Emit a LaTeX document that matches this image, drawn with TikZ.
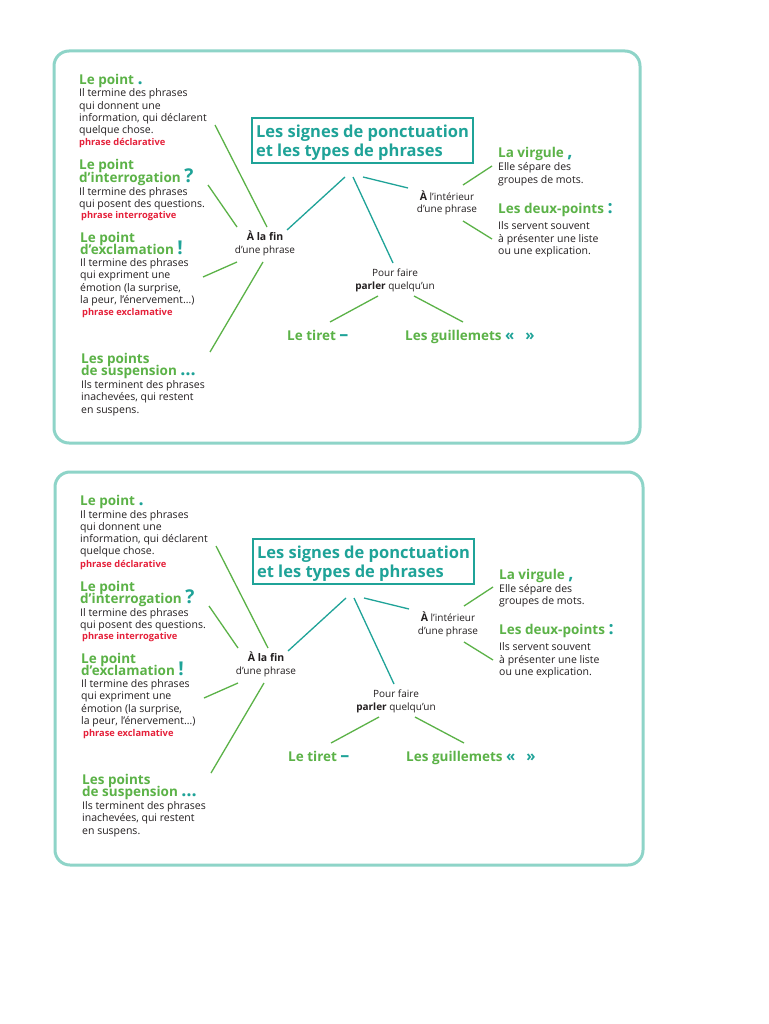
\documentclass[tikz,border=0pt]{standalone}
\usepackage{fontspec}
\setmainfont{Open Sans}
\usetikzlibrary{calc}
\definecolor{tealc}{HTML}{1FA398}
\definecolor{greenc}{HTML}{5BB247}
\definecolor{framec}{HTML}{8ED4C8}
\definecolor{redc}{HTML}{E5203A}
\definecolor{inkc}{HTML}{231F20}
\newcommand\pmark[2][18]{\smash{\textcolor{tealc}{\fontsize{#1}{#1}\selectfont\bfseries #2}}}
\newcommand\tightlines{\lineskiplimit=-20pt\lineskip=0pt}
\tikzset{
  bodytext/.style={anchor=base west, inner sep=0pt, align=left, text=inkc, font=\fontsize{10.5}{12.3}\selectfont\tightlines},
  headtext/.style={anchor=base west, inner sep=0pt, align=left, text=greenc, font=\fontsize{13.5}{12.5}\selectfont\bfseries\tightlines},
  redtext/.style={anchor=base west, inner sep=0pt, text=redc, font=\fontsize{9.3}{10}\selectfont\bfseries},
  midtext/.style={anchor=base, inner sep=0pt, align=center, text=inkc, font=\fontsize{10}{12.5}\selectfont\tightlines},
  titlebox/.style={draw=tealc, line width=2pt, text=tealc, align=left, inner sep=0pt,
    minimum width=221pt, minimum height=45pt, font=\fontsize{16.5}{18.5}\selectfont\bfseries\tightlines},
  tline/.style={tealc, line width=1.3pt},
  gline/.style={greenc, line width=1.3pt},
  framebox/.style={framec, line width=3pt, rounded corners=15pt},
}
\newcommand\drawpanel[5]{%
\begin{scope}[shift={(#1,#2)}, name prefix=#3-]
  \draw[framebox] (54,51) rectangle (#4,#5);
  % title
  \draw[draw=tealc, line width=2pt] (252,118) rectangle (473,163);
  \node[titlebox, draw=none] (title) at (362.5,142.5) {Les signes de ponctuation\\et les types de phrases};
  % left column
  \node[headtext] (hpoint) at (79,84.5) {Le point \pmark{.}};
  \node[bodytext] (bpoint) at (79,133.9) {Il termine des phrases\\qui donnent une\\information, qui déclarent\\quelque chose.};
  \node[redtext] (rpoint) at (79,146) {phrase déclarative};
  \node[headtext] (hinter) at (79,182.5) {Le point\\d’interrogation \pmark[19]{?}};
  \node[bodytext] (binter) at (79,207.8) {Il termine des phrases\\qui posent des questions.};
  \node[redtext] (rinter) at (81,218.5) {phrase interrogative};
  \node[headtext] (hexcl) at (80,254.5) {Le point\\d’exclamation \pmark[19]{!}};
  \node[bodytext] (bexcl) at (80,303.4) {Il termine des phrases\\qui expriment une\\émotion (la surprise,\\la peur, l’énervement…)};
  \node[redtext] (rexcl) at (82,315.5) {phrase exclamative};
  \node[headtext] (hsusp) at (81,375.5) {Les points\\de suspension \pmark{…}};
  \node[bodytext] (bsusp) at (81,413) {Ils terminent des phrases\\inachevées, qui restent\\en suspens.};
  % middle
  \node[midtext] (fin) at (265,253) {{\fontsize{10.5}{12.5}\selectfont\bfseries À la fin}\\d’une phrase};
  \node[midtext] (inter) at (447,213) {{\fontsize{10.5}{12.5}\selectfont\bfseries À} l’intérieur\\d’une phrase};
  \node[midtext] (pour) at (395,289) {Pour faire\\{\bfseries parler} quelqu’un};
  % right column
  \node[headtext] (hvirg) at (498,158) {La virgule \pmark{,}};
  \node[bodytext] (bvirg) at (498,183.3) {Elle sépare des\\groupes de mots.};
  \node[headtext] (hdeux) at (498,213.5) {Les deux-points \pmark{:}};
  \node[bodytext] (bdeux) at (498,254.5) {Ils servent souvent\\à présenter une liste\\ou une explication.};
  % bottom
  \node[headtext] (tiret) at (287,340) {Le tiret \pmark{–}};
  \node[headtext] (guill) at (405,340) {Les guillemets \pmark[15]{«}\hspace{11pt}\pmark[15]{»}};
  % connector ends
  \coordinate (ta) at (345,177); \coordinate (fa) at (287,230);
  \coordinate (tb) at (353,177); \coordinate (pa) at (393,263);
  \coordinate (tc) at (363,177); \coordinate (ia) at (408,188);
  \coordinate (f1) at (267,227); \coordinate (e1) at (215,125);
  \coordinate (f2) at (237,227); \coordinate (e2) at (208,185);
  \coordinate (f3) at (237,262); \coordinate (e3) at (203,277);
  \coordinate (f4) at (263,262); \coordinate (e4) at (210,352);
  \coordinate (i1) at (463,185); \coordinate (e5) at (492,166);
  \coordinate (i2) at (463,221); \coordinate (e6) at (492,239);
  \coordinate (p1) at (378,296); \coordinate (e7) at (330,322);
  \coordinate (p2) at (414,296); \coordinate (e8) at (463,322);
  \draw[tline] (ta) -- (fa);
  \draw[tline] (tb) -- (pa);
  \draw[tline] (tc) -- (ia);
  \draw[gline] (f1) -- (e1);
  \draw[gline] (f2) -- (e2);
  \draw[gline] (f3) -- (e3);
  \draw[gline] (f4) -- (e4);
  \draw[gline] (i1) -- (e5);
  \draw[gline] (i2) -- (e6);
  \draw[gline] (p1) -- (e7);
  \draw[gline] (p2) -- (e8);
\end{scope}}
\begin{document}
\begin{tikzpicture}[x=1pt,y=-1pt]
  \useasboundingbox[fill=white] (0,0) rectangle (768,1024);
  \drawpanel{0}{0}{a}{640}{443}
  \drawpanel{1}{421}{b}{642}{444}
\end{tikzpicture}
\end{document}
